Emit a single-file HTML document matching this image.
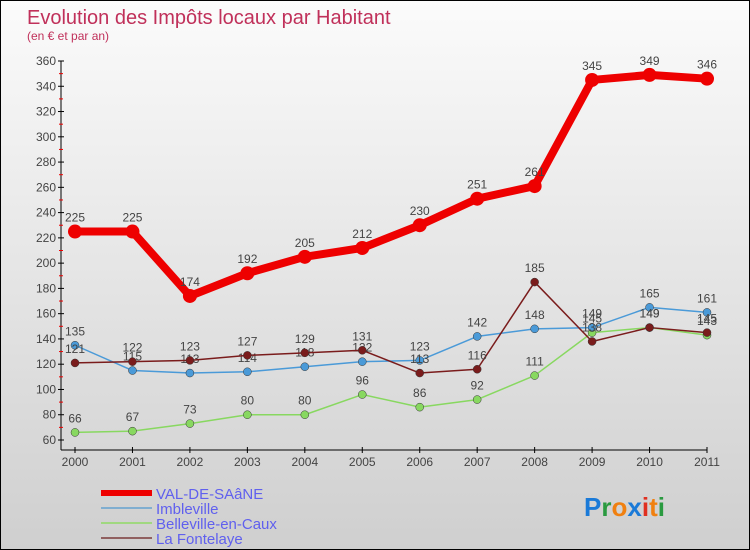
<!DOCTYPE html>
<html><head><meta charset="utf-8"><style>
body{margin:0;}
#wrap{position:relative;width:748px;height:548px;border:1px solid #000;background:linear-gradient(#fbfbfb,#cfcfcf);font-family:"Liberation Sans",sans-serif;overflow:hidden}
</style></head><body>
<div id="wrap">
<svg id="svg" width="748" height="548"></svg>
</div>
<script>
const years=["2000","2001","2002","2003","2004","2005","2006","2007","2008","2009","2010","2011"];
const valDeSaane=[225,225,174,192,205,212,230,251,261,345,349,346];
const imbleville=[135,115,113,114,118,122,123,142,148,149,165,161];
const belleville=[66,67,73,80,80,96,86,92,111,145,149,143];
const fontelaye=[121,122,123,127,129,131,113,116,185,138,149,145];
const yTicks=[60,80,100,120,140,160,180,200,220,240,260,280,300,320,340,360];
const NS="http://www.w3.org/2000/svg";
const svg=document.getElementById('svg');
function X(i){return 74+i*(706-74)/(years.length-1);}
function Y(v){return 439-(v-60)*(439-60)/300;}
function el(t,a,p){const e=document.createElementNS(NS,t);for(const k in a)e.setAttribute(k,a[k]);(p||svg).appendChild(e);return e;}
const title=el('text',{x:26,y:23,'font-size':20,fill:'#c0305a'});title.textContent='Evolution des Impôts locaux par Habitant';


const sub=el('text',{x:26,y:39,'font-size':12,fill:'#c0305a'});sub.textContent='(en € et par an)';


const ya=el('line',{x1:60,y1:60,x2:60,y2:449,stroke:'#000'});


const xa=el('line',{x1:60,y1:449,x2:706,y2:449,stroke:'#000'});


yTicks.forEach(v=>{
  el('line',{x1:57,y1:Y(v),x2:63,y2:Y(v),stroke:'#000'});
  if(v<360) el('line',{x1:58,y1:Y(v+10),x2:62,y2:Y(v+10),stroke:'#e00'});
  const t=el('text',{x:55,y:Y(v)+4,'font-size':12,fill:'#444','text-anchor':'end'});t.textContent=v;
  
  
});
years.forEach((y,i)=>{
  el('line',{x1:X(i),y1:446,x2:X(i),y2:452,stroke:'#000'});
  const t=el('text',{x:X(i),y:465,'font-size':12,fill:'#444','text-anchor':'middle'});t.textContent=y;
  
  
});
function series(data,color,w,r,name){
  const g=el('g',{});
  
  
  el('polyline',{points:data.map((v,i)=>X(i)+','+Y(v)).join(' '),fill:'none',stroke:color,'stroke-width':w,'stroke-linejoin':'round'},g);
  data.forEach((v,i)=>{
    const c=el('circle',{cx:X(i),cy:Y(v),r:r,fill:color,stroke:w>3?color:'#333','stroke-width':w>3?0:0.5},g);
    
    
    const t=el('text',{x:X(i),y:Y(v)-10,'font-size':12,fill:'#444','text-anchor':'middle'},g);t.textContent=v;
  });
}
series(belleville,'#88d860',1.5,4,'belleville-series');
series(imbleville,'#4a9ad8',1.5,4,'imbleville-series');
series(fontelaye,'#7a1c1c',1.5,4,'fontelaye-series');
series(valDeSaane,'#ee0000',8,7,'val-de-saane-series');
const leg=[['VAL-DE-SAâNE','#ee0000',6],['Imbleville','#80aed0',2],['Belleville-en-Caux','#a0d880',2],['La Fontelaye','#906060',2]];
leg.forEach((l,i)=>{
  const g=el('g',{});
  
  
  const y=492+i*15;
  el('line',{x1:100,y1:y,x2:151,y2:y,stroke:l[1],'stroke-width':l[2]},g);
  const t=el('text',{x:155,y:y+6,'font-size':15,fill:'#6060ee'},g);t.textContent=l[0];
});
const logo=el('text',{x:583,y:515,'font-size':26,'font-weight':'bold'});


[['P','#1a7ad8'],['r','#2a9a40'],['o','#f08010'],['x','#1a7ad8'],['i','#e03020'],['t','#f08010'],['i','#2a9a40']].forEach(p=>{const s=el('tspan',{fill:p[1]},logo);s.textContent=p[0];});
</script>
</body></html>
